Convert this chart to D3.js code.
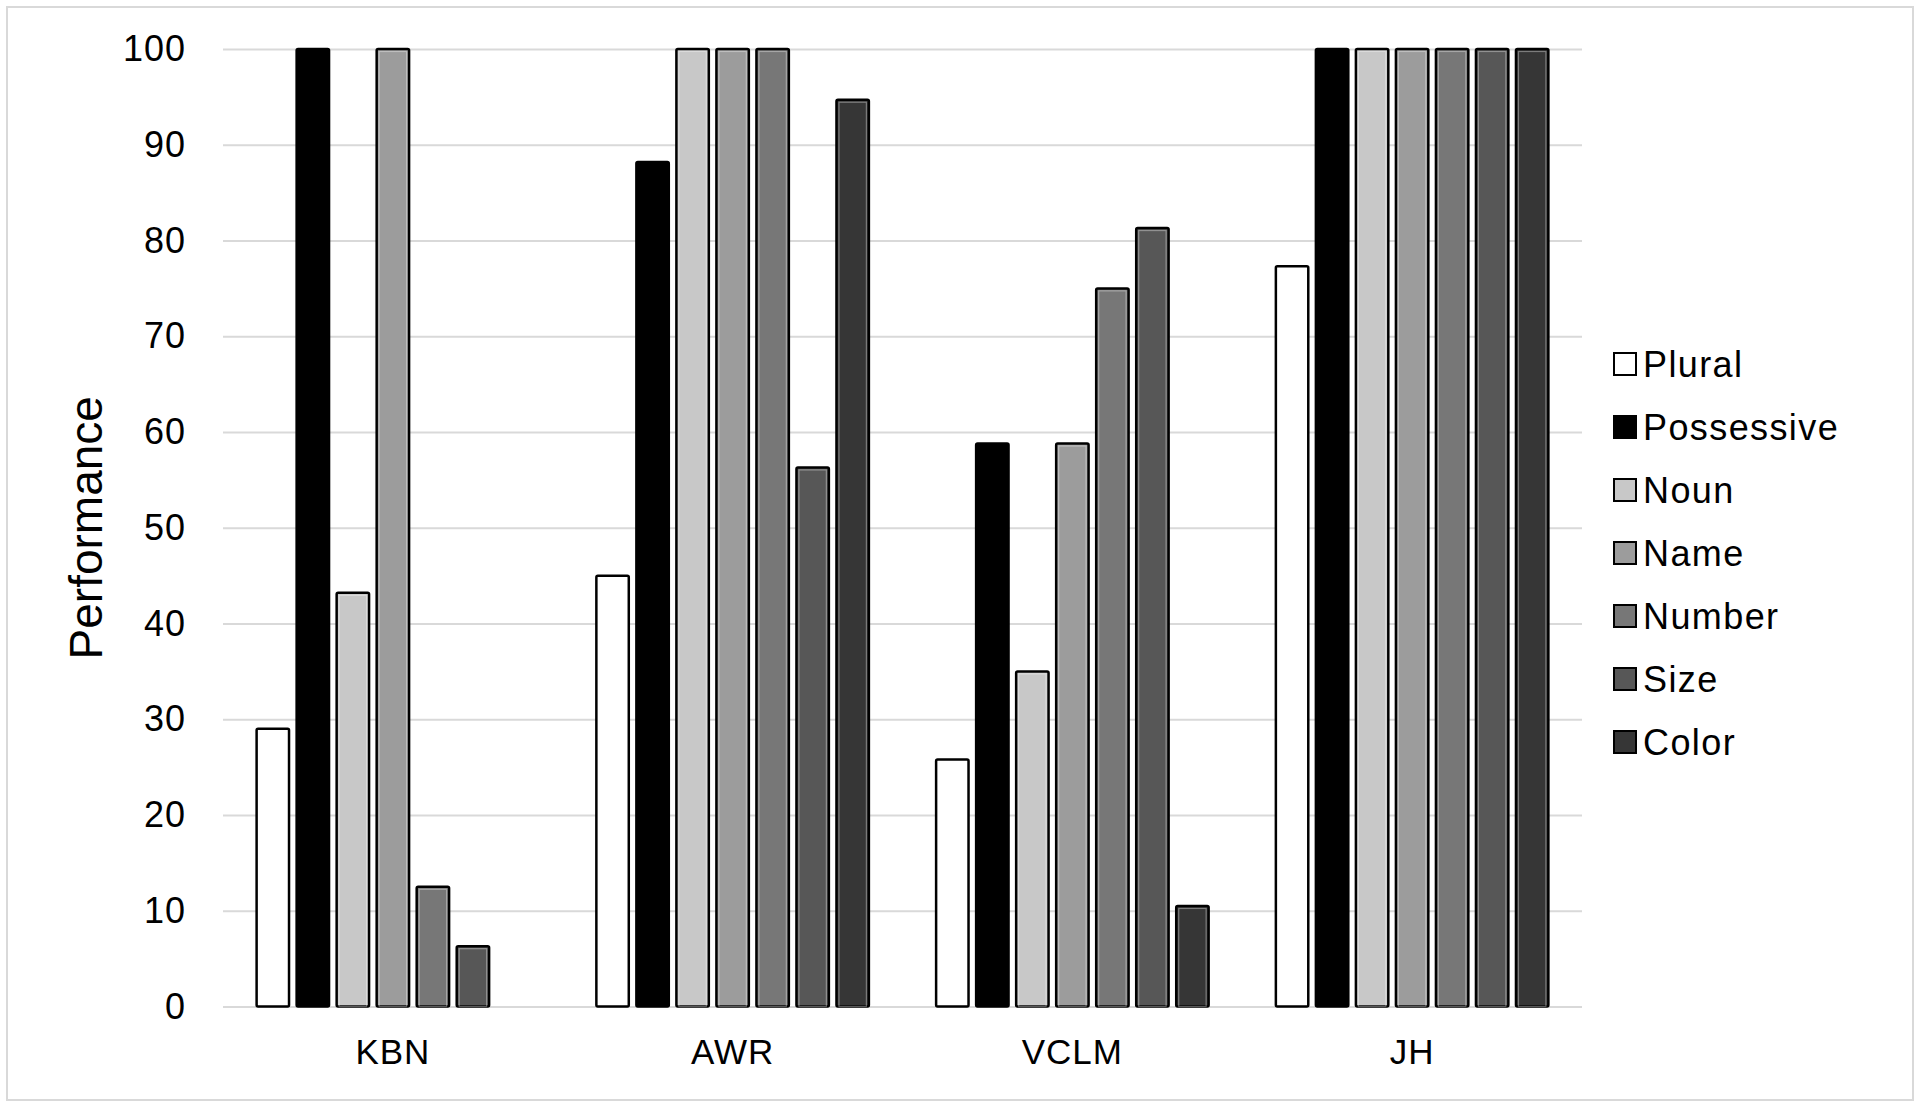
<!DOCTYPE html>
<html lang="en">
<head>
<meta charset="UTF-8" />
<title>Performance</title>
<script src="https://cdn.jsdelivr.net/npm/d3@7"></script>
<style>
  body { margin: 0; background: #fff; }
  svg text { font-family: "Liberation Sans", Arial, sans-serif; fill: #000; }
</style>
</head>
<body>
<svg width="1920" height="1108"></svg>
<script>
// data
const categories = ["KBN", "AWR", "VCLM", "JH"];
const seriesNames = ["Plural", "Possessive", "Noun", "Name", "Number", "Size", "Color"];
const seriesColors = ["#ffffff", "#000000", "#c8c8c8", "#9c9c9c", "#777777", "#575757", "#363636"];
const pluralVals = [29, 45, 25.8, 77.3];
const possessiveVals = [100, 88.2, 58.8, 100];
const nounVals = [43.2, 100, 35, 100];
const nameVals = [100, 100, 58.8, 100];
const numberVals = [12.5, 100, 75, 100];
const sizeVals = [6.3, 56.3, 81.3, 100];
const colorVals = [0, 94.7, 10.5, 100];
const yTicks = [0, 10, 20, 30, 40, 50, 60, 70, 80, 90, 100];

const seriesVals = [pluralVals, possessiveVals, nounVals, nameVals, numberVals, sizeVals, colorVals];

const svg = d3.select("svg");

// chart frame
svg.append("rect")
  .attr("x", 7).attr("y", 7)
  .attr("width", 1906).attr("height", 1093)
  .attr("fill", "#fff")
  .attr("stroke", "#d9d9d9")
  .attr("stroke-width", 2);

const plotLeft = 223, plotRight = 1582, plotTop = 49, plotBottom = 1006.5;

const y = d3.scaleLinear().domain([0, 100]).range([plotBottom, plotTop]);
const x0 = d3.scaleBand().domain(categories).range([plotLeft, plotRight]).padding(0);
const x1 = d3.scaleBand().domain(seriesNames).range([0, x0.bandwidth()])
  .paddingInner(0.19).paddingOuter(0.84);
const fill = d3.scaleOrdinal().domain(seriesNames).range(seriesColors);

// gridlines
const grid = svg.append("g")
  .attr("transform", "translate(" + plotLeft + ",0)")
  .call(d3.axisLeft(y).tickValues(yTicks).tickSize(-(plotRight - plotLeft)).tickFormat(""));
grid.select(".domain").remove();
grid.selectAll("line").attr("stroke", "#d9d9d9").attr("stroke-width", 2);

// y tick labels
const yAxis = svg.append("g")
  .attr("transform", "translate(" + plotLeft + ",0)")
  .call(d3.axisLeft(y).tickValues(yTicks).tickSize(0).tickPadding(37));
yAxis.select(".domain").remove();
yAxis.selectAll("text")
  .attr("font-size", 36)
  .attr("letter-spacing", 1)
  .attr("font-family", "Liberation Sans, Arial, sans-serif");

// x category labels
const xAxis = svg.append("g")
  .attr("transform", "translate(0," + plotBottom + ")")
  .call(d3.axisBottom(x0).tickSize(0));
xAxis.select(".domain").remove();
xAxis.selectAll("text")
  .attr("y", 45)
  .attr("dy", null)
  .attr("dominant-baseline", "central")
  .attr("font-size", 35)
  .attr("letter-spacing", 1)
  .attr("font-family", "Liberation Sans, Arial, sans-serif");

// y axis title
svg.append("text")
  .attr("transform", "translate(86," + ((plotTop + plotBottom) / 2) + ") rotate(-90)")
  .attr("text-anchor", "middle")
  .attr("dominant-baseline", "central")
  .attr("font-size", 46)
  .text("Performance");

// bars
const barData = [];
categories.forEach((c, ci) => {
  seriesNames.forEach((s, si) => {
    barData.push({ cat: c, series: s, value: seriesVals[si][ci] });
  });
});

const bars = svg.append("g")
  .selectAll("g")
  .data(barData.filter(d => d.value > 0))
  .enter()
  .append("g");

bars.append("rect")
  .attr("x", d => x0(d.cat) + x1(d.series))
  .attr("y", d => y(d.value))
  .attr("width", x1.bandwidth())
  .attr("height", d => y(0) - y(d.value))
  .attr("rx", 1.5)
  .attr("fill", d => fill(d.series))
  .attr("stroke", "#000")
  .attr("stroke-width", 2.5);

// faint inner edge highlight like the original rendering
bars.filter(d => d.series !== "Possessive" && d.series !== "Plural")
  .append("rect")
  .attr("x", d => x0(d.cat) + x1(d.series) + 2.5)
  .attr("y", d => y(d.value) + 2.5)
  .attr("width", x1.bandwidth() - 5)
  .attr("height", d => Math.max(0, y(0) - y(d.value) - 2.5))
  .attr("fill", "none")
  .attr("stroke", "#fff")
  .attr("stroke-opacity", 0.35)
  .attr("stroke-width", 1.2);

// legend
const legend = svg.append("g")
  .selectAll("g")
  .data(seriesNames)
  .enter()
  .append("g")
  .attr("transform", (d, i) => "translate(1614," + (364 + i * 63) + ")");

legend.append("rect")
  .attr("x", 0).attr("y", -11)
  .attr("width", 22).attr("height", 22)
  .attr("fill", d => fill(d))
  .attr("stroke", "#000")
  .attr("stroke-width", 2);

legend.append("text")
  .attr("x", 29)
  .attr("y", 0)
  .attr("dominant-baseline", "central")
  .attr("font-size", 36)
  .attr("letter-spacing", 1.4)
  .text(d => d);
</script>
</body>
</html>
